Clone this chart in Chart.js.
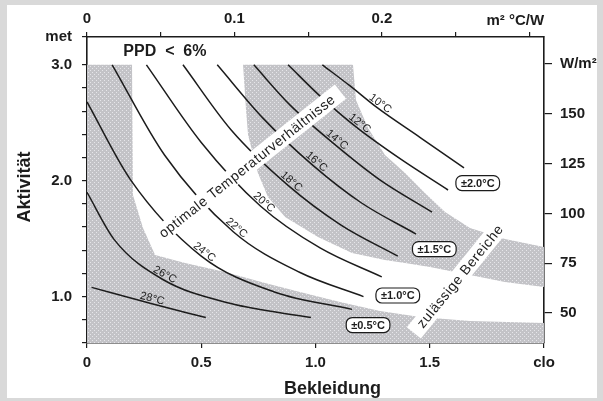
<!DOCTYPE html>
<html>
<head>
<meta charset="utf-8">
<script src="https://cdn.jsdelivr.net/npm/chart.js@4.4.1/dist/chart.umd.min.js"></script>
<style>
  html, body { margin: 0; padding: 0; background: #d9d9d9; }
  #wrap { width: 603px; height: 401px; }
</style>
</head>
<body>
<div id="wrap"><canvas id="comfortChart"></canvas></div>
<script>
/* =======================
   Data (clo on x, met on y)
======================= */
const isoTemps = [10, 12, 14, 16, 18, 20, 22, 24, 26, 28];

const clo10 = [1.03, 1.15, 1.27, 1.46, 1.65];  const met10 = [3.0, 2.82, 2.63, 2.37, 2.11];
const clo12 = [0.88, 1.02, 1.18, 1.37, 1.58];  const met12 = [3.0, 2.73, 2.46, 2.19, 1.92];
const clo14 = [0.73, 0.89, 1.08, 1.28, 1.51];  const met14 = [3.0, 2.65, 2.32, 2.01, 1.73];
const clo16 = [0.57, 0.77, 0.99, 1.20, 1.44];  const met16 = [3.0, 2.54, 2.13, 1.81, 1.54];
const clo18 = [0.42, 0.63, 0.88, 1.11, 1.36];  const met18 = [3.0, 2.44, 1.96, 1.62, 1.35];
const clo20 = [0.26, 0.50, 0.76, 1.02, 1.29];  const met20 = [3.0, 2.33, 1.78, 1.42, 1.17];
const clo22 = [0.11, 0.34, 0.64, 0.93, 1.21];  const met22 = [3.0, 2.22, 1.56, 1.21, 1.00];
const clo24 = [0.0, 0.19, 0.50, 0.82, 1.16];   const met24 = [2.68, 2.01, 1.35, 1.04, 0.89];
const clo26 = [0.0, 0.12, 0.33, 0.63, 0.98];   const met26 = [1.90, 1.49, 1.15, 0.94, 0.82];
const clo28 = [0.02, 0.28, 0.52];              const met28 = [1.08, 0.94, 0.82];

// grey tolerance zones (outline, clo / met)
const zoneLowClo = [0, 0, 0.197, 0.201, 0.245, 0.298, 0.429, 0.604, 0.779, 0.932, 1.107, 1.282, 1.457, 1.676, 2.0, 2.0];
const zoneLowMet = [0.6, 3.0, 3.0, 1.877, 1.592, 1.359, 1.290, 1.213, 1.118, 1.040, 0.954, 0.876, 0.824, 0.790, 0.773, 0.6];
const zoneMidClo = [0.683, 1.164, 1.177, 1.230, 1.304, 1.392, 1.479, 1.567, 1.676, 1.829, 2.0,
                    2.0, 1.829, 1.676, 1.501, 1.392, 1.304, 1.160, 1.011, 0.867, 0.792, 0.748, 0.705, 0.696];
const zoneMidMet = [3.0, 3.0, 2.697, 2.455, 2.222, 2.067, 1.894, 1.730, 1.592, 1.497, 1.428,
                    1.083, 1.126, 1.187, 1.256, 1.290, 1.316, 1.377, 1.515, 1.687, 1.860, 2.067, 2.395, 2.610];

// tolerance labels
const tolLabels = ["±2.0°C", "±1.5°C", "±1.0°C", "±0.5°C"];
const tolClo = [1.71, 1.52, 1.36, 1.23];
const tolMet = [1.98, 1.41, 1.01, 0.755];

// axes
const cloTicks = [0, 0.5, 1.0, 1.5, 2.0];
const cloTickLabels = ["0", "0.5", "1.0", "1.5", "clo"];
const resTicks = [0, 0.05, 0.1, 0.15, 0.2, 0.25, 0.3];
const resTickLabels = ["0", "", "0.1", "", "0.2", "", ""];
const metTicks = [0.6, 0.8, 1.0, 1.2, 1.4, 1.6, 1.8, 2.0, 2.2, 2.4, 2.6, 2.8, 3.0, 3.24];
const metTickLabels = ["", "", "1.0", "", "", "", "", "2.0", "", "", "", "", "3.0", "met"];
const wTicks = [50, 75, 100, 125, 150, 175];
const wTickLabels = ["50", "75", "100", "125", "150", "W/m²"];

const CLO_M2KW = 0.155;
const MET_WM2 = 58.2;
const cloMin = 0, cloMax = 2.0, metMin = 0.6, metMax = 3.24;

/* =======================
   Helpers
======================= */
const FONT = '"Liberation Sans", Arial, Helvetica, sans-serif';
const INK = "#1c1c1c";

function toPts(xs, ys) {
  return xs.map((x, i) => ({ x: x, y: ys[i] }));
}

function dotPattern(ctx) {
  const c = document.createElement("canvas");
  c.width = 4; c.height = 4;
  const g = c.getContext("2d");
  g.fillStyle = "#c3c3c7";
  g.fillRect(0, 0, 4, 4);
  g.fillStyle = "#e6e6ea";
  g.fillRect(0, 0, 1, 1);
  g.fillRect(2, 2, 1, 1);
  return ctx.createPattern(c, "repeat");
}

function fixedTicks(values) {
  return scale => { scale.ticks = values.map(v => ({ value: v })); };
}

function axisStyle(tickLen, pad, labels, values) {
  return {
    grid: { drawOnChartArea: false, drawTicks: true, tickLength: tickLen, color: INK, lineWidth: 1.2 },
    border: { display: true, color: INK, width: 1.6 },
    ticks: {
      autoSkip: false, maxRotation: 0, minRotation: 0, padding: pad, color: INK,
      font: { family: FONT, size: 15, weight: "bold" },
      callback: v => {
        const i = values.findIndex(t => Math.abs(t - v) < 1e-6);
        return i >= 0 ? labels[i] : "";
      }
    },
    z: 1
  };
}

function drawBand(c, x, y, deg, text) {
  c.save();
  c.translate(x, y);
  c.rotate(deg * Math.PI / 180);
  c.font = "14px " + FONT;
  c.letterSpacing = "0.6px";
  const w = c.measureText(text).width + 18;
  c.fillStyle = "#ffffff";
  c.fillRect(-w / 2, -9, w, 18);
  c.fillStyle = INK;
  c.textAlign = "center";
  c.textBaseline = "middle";
  c.fillText(text, 0, 1);
  c.restore();
}

/* =======================
   Overlay plugin
======================= */
const overlay = {
  id: "overlay",
  beforeDraw(chart) {
    const c = chart.ctx;
    c.save();
    c.fillStyle = "#d9d9d9";
    c.fillRect(0, 0, chart.width, chart.height);
    c.fillStyle = "#ffffff";
    c.fillRect(7, 5, 590, 393);
    c.restore();
  },
  afterDatasetsDraw(chart) {
    const c = chart.ctx;
    const sx = chart.scales.x, sy = chart.scales.y;

    drawBand(c, sx.getPixelForValue(0.70), sy.getPixelForValue(2.127), -38.5, "optimale Temperaturverhältnisse");
    drawBand(c, sx.getPixelForValue(1.632), sy.getPixelForValue(1.178), -51, "zulässige Bereiche");

    // isotherm labels along the curves
    c.save();
    c.font = "11px " + FONT;
    c.fillStyle = INK;
    c.textAlign = "center";
    c.textBaseline = "alphabetic";
    isoTemps.forEach((t, k) => {
      const pts = chart.getDatasetMeta(k).data;
      const i = t === 28 ? 1 : 2;
      const a = Math.atan2(pts[i + 1].y - pts[i - 1].y, pts[i + 1].x - pts[i - 1].x);
      c.save();
      c.translate(pts[i].x, pts[i].y);
      c.rotate(a);
      c.fillText(t + "°C", 0, -2);
      c.restore();
    });
    c.restore();

    // tolerance boxes
    c.save();
    c.font = "bold 11px " + FONT;
    c.textAlign = "center";
    c.textBaseline = "middle";
    tolLabels.forEach((t, i) => {
      const x = sx.getPixelForValue(tolClo[i]), y = sy.getPixelForValue(tolMet[i]);
      const w = c.measureText(t).width + 10, h = 15;
      c.beginPath();
      c.roundRect(x - w / 2, y - h / 2, w, h, 6);
      c.fillStyle = "#ffffff";
      c.fill();
      c.lineWidth = 1.2;
      c.strokeStyle = INK;
      c.stroke();
      c.fillStyle = INK;
      c.fillText(t, x, y + 0.5);
    });
    c.restore();
  },
  afterDraw(chart) {
    const c = chart.ctx;
    const sx = chart.scales.x, sy = chart.scales.y, sTop = chart.scales.xTop;
    c.save();
    c.fillStyle = INK;

    c.font = "bold 16px " + FONT;
    c.textAlign = "center";
    c.textBaseline = "middle";
    c.fillText("PPD  <  6%", sx.getPixelForValue(0.341), sy.getPixelForValue(3.111));

    c.font = "bold 15px " + FONT;
    c.textBaseline = "bottom";
    c.fillText("m² °C/W", sTop.getPixelForValue(0.3) - 14, sTop.bottom - 9);

    c.font = "bold 18px " + FONT;
    c.textBaseline = "alphabetic";
    c.fillText("Bekleidung", (sx.left + sx.right) / 2 + 17, 394);

    c.translate(30, (sy.top + sy.bottom) / 2 - 3);
    c.rotate(-Math.PI / 2);
    c.fillText("Aktivität", 0, 0);
    c.restore();
  }
};

/* =======================
   Chart
======================= */
const canvas = document.getElementById("comfortChart");
const ctx = canvas.getContext("2d");
const dots = dotPattern(ctx);

const isoData = [
  [clo10, met10], [clo12, met12], [clo14, met14], [clo16, met16], [clo18, met18],
  [clo20, met20], [clo22, met22], [clo24, met24], [clo26, met26], [clo28, met28]
];

const datasets = isoData.map(([xs, ys], k) => ({
  label: isoTemps[k] + "°C",
  data: toPts(xs, ys),
  showLine: true,
  borderColor: INK,
  borderWidth: 1.5,
  pointRadius: 0,
  cubicInterpolationMode: "monotone",
  fill: false,
  order: 1
}));

[[zoneLowClo, zoneLowMet], [zoneMidClo, zoneMidMet]].forEach(([xs, ys], k) => {
  datasets.push({
    label: "zone" + k,
    data: toPts(xs, ys),
    showLine: true,
    borderColor: "rgba(0,0,0,0)",
    borderWidth: 1,
    backgroundColor: dots,
    pointRadius: 0,
    tension: 0,
    fill: "shape",
    order: 5
  });
});

const xStyle = axisStyle(5, 6, cloTickLabels, cloTicks);
const topStyle = axisStyle(5, 4, resTickLabels, resTicks);
const yStyle = axisStyle(5, 10, metTickLabels, metTicks);
const rStyle = axisStyle(8, 8, wTickLabels, wTicks);

new Chart(ctx, {
  type: "scatter",
  data: { datasets },
  options: {
    responsive: true,
    maintainAspectRatio: false,
    animation: false,
    layout: { padding: 0 },
    plugins: { legend: { display: false }, tooltip: { enabled: false } },
    scales: {
      x: Object.assign({ type: "linear", position: "bottom", min: cloMin, max: cloMax,
        afterBuildTicks: fixedTicks(cloTicks), afterFit: s => { s.height = 58; } }, xStyle),
      xTop: Object.assign({ type: "linear", position: "top", min: cloMin * CLO_M2KW, max: cloMax * CLO_M2KW,
        afterBuildTicks: fixedTicks(resTicks), afterFit: s => { s.height = 37; } }, topStyle),
      y: Object.assign({ type: "linear", position: "left", min: metMin, max: metMax,
        afterBuildTicks: fixedTicks(metTicks), afterFit: s => { s.width = 87; } }, yStyle),
      yRight: Object.assign({ type: "linear", position: "right", min: metMin * MET_WM2, max: metMax * MET_WM2,
        afterBuildTicks: fixedTicks(wTicks), afterFit: s => { s.width = 59; } }, rStyle)
    }
  },
  plugins: [overlay]
});
</script>
</body>
</html>
